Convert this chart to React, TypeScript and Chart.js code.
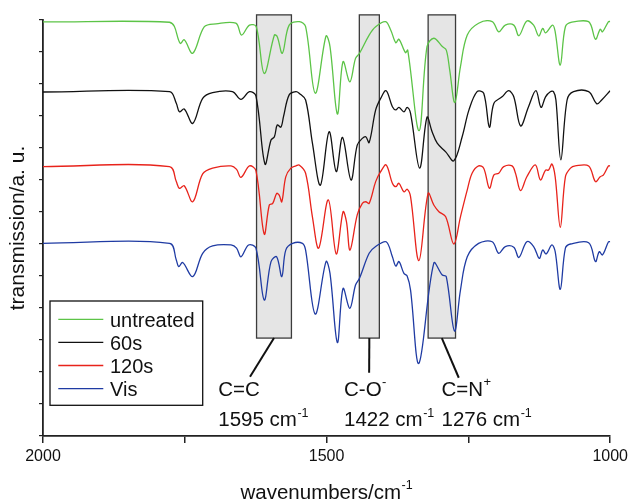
import React, { useEffect, useRef } from 'react';
import { Chart, registerables } from 'chart.js';

Chart.register(...registerables);

const FONT = '"Liberation Sans", Arial, Helvetica, sans-serif';

// ---- series ----
const seriesNames = ['untreated', '60s', '120s', 'Vis'];
const seriesColors = ['#5cc447', '#111111', '#e8231b', '#1f3ba3'];

const untreatedWn = [2000, 1777, 1758, 1751, 1736, 1715.5, 1695, 1660, 1650, 1636, 1624, 1610, 1592, 1587, 1578, 1566, 1548, 1537, 1520, 1501, 1494, 1481, 1471, 1459, 1449, 1442, 1425, 1413.5, 1396, 1387, 1378, 1372.5, 1361, 1357, 1337, 1323, 1311, 1296, 1289, 1283, 1274, 1264, 1252, 1232, 1208, 1196.5, 1185, 1170, 1161, 1147, 1135, 1126, 1119, 1114, 1101.5, 1097, 1088, 1079, 1067.6, 1038, 1026, 1017.6, 1013.6, 1003, 1000];
const untreatedT = [12.94, 12.93, 12.27, 12.38, 11.96, 12.79, 12.88, 12.9, 12.53, 12.84, 12.79, 11.33, 12.53, 12.48, 11.96, 12.84, 12.95, 12.79, 10.71, 12.5, 12.17, 10.06, 11.7, 11.07, 11.8, 11.96, 12.53, 12.79, 12.95, 12.69, 12.29, 12.4, 11.98, 12.06, 9.54, 12.17, 12.43, 12.17, 12.06, 11.44, 10.42, 11.54, 12.53, 12.9, 12.95, 12.63, 12.84, 12.84, 12.51, 12.97, 12.84, 12.5, 12.74, 12.6, 12.84, 12.63, 11.59, 12.79, 12.93, 12.95, 12.4, 12.71, 12.63, 12.95, 12.95];

const s60Wn = [2000, 1777, 1765, 1759.5, 1751, 1736, 1718.5, 1701, 1666, 1651, 1636, 1624.6, 1608.7, 1598, 1592, 1587, 1580.6, 1576, 1566, 1554, 1548.4, 1537, 1525, 1511, 1495.6, 1483, 1472, 1457, 1446, 1437, 1431, 1425, 1413.5, 1404.7, 1395, 1384, 1378, 1372.5, 1363.7, 1358, 1352, 1336, 1323, 1314, 1305, 1290, 1275.7, 1261, 1249, 1234.7, 1223, 1213, 1205, 1190.7, 1179, 1170, 1158, 1144, 1131, 1122, 1114, 1105.6, 1100, 1095.7, 1087, 1076, 1064.6, 1038, 1023.6, 1015, 1000];
const s60T = [10.75, 10.76, 10.4, 10.13, 10.22, 9.77, 10.55, 10.73, 10.76, 10.52, 10.76, 10.63, 8.5, 9.25, 9.35, 9.72, 9.65, 9.98, 10.66, 10.76, 10.71, 10.5, 9.15, 7.84, 9.51, 8.26, 9.33, 8.0, 9.09, 9.3, 9.35, 9.17, 10.19, 10.55, 10.79, 10.29, 10.19, 10.27, 10.13, 10.27, 10.08, 8.37, 9.96, 9.51, 9.15, 8.88, 8.6, 9.35, 10.19, 10.76, 10.71, 9.65, 10.4, 10.6, 10.79, 10.6, 9.69, 10.29, 10.79, 10.27, 10.6, 10.76, 10.76, 10.5, 8.63, 10.5, 10.76, 10.76, 10.38, 10.5, 10.79];

const s120Wn = [2000, 1777, 1765, 1759.5, 1751, 1736, 1718.5, 1701, 1668.5, 1658.7, 1651, 1636, 1624.6, 1610, 1601, 1595, 1588, 1583.6, 1579, 1572, 1563, 1554, 1548.4, 1537, 1525, 1514, 1497, 1483, 1471, 1465, 1458.7, 1446, 1437, 1431, 1425, 1413.5, 1404.7, 1395, 1384, 1378, 1372.5, 1363.7, 1358, 1352, 1337.3, 1321, 1311, 1302, 1290, 1275.7, 1264, 1252, 1243.5, 1232, 1223, 1213, 1205, 1196.5, 1187.7, 1173, 1167, 1158, 1147, 1132, 1123, 1114, 1108.6, 1102.8, 1097, 1088, 1079, 1070, 1061.6, 1038, 1026, 1017.6, 1011.8, 1003, 1000];
const s120T = [8.42, 8.42, 7.95, 7.74, 7.82, 7.32, 8.19, 8.37, 8.44, 8.33, 8.08, 8.44, 8.29, 6.31, 7.22, 7.27, 7.58, 7.53, 7.32, 8.1, 8.37, 8.44, 8.47, 8.21, 6.85, 5.87, 7.38, 5.69, 7.01, 6.7, 5.81, 6.91, 7.27, 7.32, 7.27, 7.95, 8.26, 8.47, 7.9, 7.79, 7.9, 7.63, 7.71, 7.48, 5.48, 7.58, 7.22, 7.01, 6.85, 6.0, 6.85, 7.69, 8.21, 8.44, 8.37, 7.74, 8.16, 8.21, 8.42, 8.44, 8.21, 7.67, 8.1, 8.47, 8.0, 8.31, 8.31, 8.5, 8.1, 6.52, 8.1, 8.37, 8.44, 8.44, 7.95, 8.1, 8.16, 8.44, 8.44];

const visWn = [2000, 1777, 1765, 1760.7, 1753.7, 1736, 1718.5, 1701, 1668.5, 1658.7, 1651, 1637.6, 1624.6, 1610, 1598, 1588, 1579, 1572, 1560, 1542.6, 1537, 1520, 1501, 1494, 1481, 1471, 1459, 1449, 1442, 1425, 1413.5, 1395, 1384, 1378, 1372.5, 1363.7, 1358, 1352, 1337.3, 1311, 1296, 1289, 1274.5, 1264, 1252, 1232, 1208, 1196.5, 1185, 1170, 1161, 1147, 1135, 1125, 1119, 1113, 1102.8, 1097, 1088, 1079, 1070, 1038, 1026, 1019.4, 1013.6, 1003, 1000];
const visT = [6.02, 6.02, 5.5, 5.29, 5.42, 4.98, 5.71, 5.94, 5.97, 5.87, 5.6, 5.97, 5.87, 4.25, 5.45, 5.6, 4.98, 5.81, 6.02, 6.02, 5.81, 3.81, 5.45, 5.08, 2.92, 4.61, 3.99, 4.72, 4.93, 5.71, 5.92, 6.07, 5.6, 5.31, 5.45, 5.08, 5.0, 4.56, 2.27, 5.4, 5.03, 4.98, 3.28, 4.56, 5.6, 6.02, 6.07, 5.71, 5.92, 5.9, 5.58, 6.07, 5.92, 5.55, 5.81, 5.69, 5.97, 5.76, 4.58, 5.87, 6.0, 6.04, 5.45, 5.76, 5.66, 6.07, 6.07];

// ---- axes ----
const xLabelledTicks = [2000, 1500, 1000];

// ---- highlighted bands ----
const bandLabels = ['C=C', 'C-O', 'C=N'];
const bandCharges = ['', '-', '+'];
const bandWavenumbers = ['1595', '1422', '1276'];
const bandFrom = [1623.5, 1442.3, 1321];
const bandTo = [1562, 1407, 1272.7];

// annotation placement (data units)
const BAND_TOP = 13.16;
const BAND_BOTTOM = 3.06;
const leaderEndWn = [1635, 1425, 1267];
const leaderEndY = [1.85, 1.98, 1.82];
const labelLeftWn = [1691, 1469.3, 1297.4];
const LABEL_Y1 = 1.26;
const LABEL_Y2 = 0.31;

function toPoints(wn: number[], t: number[]) {
  return wn.map((w, i) => ({ x: w, y: t[i] }));
}

function drawSup(ctx: CanvasRenderingContext2D, text: string, sup: string, x: number, baseline: number, size: number, supSize: number, raise: number) {
  ctx.font = `${size}px ${FONT}`;
  ctx.textAlign = 'left';
  ctx.textBaseline = 'alphabetic';
  ctx.fillText(text, x, baseline);
  const w = ctx.measureText(text).width;
  if (sup) {
    ctx.font = `${supSize}px ${FONT}`;
    ctx.fillText(sup, x + w + 0.5, baseline - raise);
  }
}

const annotationPlugin = {
  id: 'irAnnotations',
  beforeDatasetsDraw(chart: any) {
    const { ctx, scales } = chart;
    const xs = scales.x, ys = scales.y;
    ctx.save();
    for (let i = 0; i < bandFrom.length; i++) {
      const x0 = xs.getPixelForValue(bandFrom[i]);
      const x1 = xs.getPixelForValue(bandTo[i]);
      const y0 = ys.getPixelForValue(BAND_TOP);
      const y1 = ys.getPixelForValue(BAND_BOTTOM);
      ctx.fillStyle = '#e5e5e5';
      ctx.fillRect(Math.min(x0, x1), y0, Math.abs(x1 - x0), y1 - y0);
      ctx.strokeStyle = '#3c3c3c';
      ctx.lineWidth = 1.3;
      ctx.strokeRect(Math.min(x0, x1), y0, Math.abs(x1 - x0), y1 - y0);
    }
    ctx.restore();
  },
  afterDraw(chart: any) {
    const { ctx, scales, chartArea } = chart;
    const xs = scales.x, ys = scales.y;
    ctx.save();
    ctx.fillStyle = '#111';
    ctx.strokeStyle = '#111';
    // leader lines + labels
    for (let i = 0; i < bandFrom.length; i++) {
      const cx = xs.getPixelForValue((bandFrom[i] + bandTo[i]) / 2);
      const by = ys.getPixelForValue(BAND_BOTTOM);
      ctx.lineWidth = 2;
      ctx.beginPath();
      ctx.moveTo(cx, by);
      ctx.lineTo(xs.getPixelForValue(leaderEndWn[i]), ys.getPixelForValue(leaderEndY[i]));
      ctx.stroke();
      const lx = xs.getPixelForValue(labelLeftWn[i]);
      drawSup(ctx, bandLabels[i], bandCharges[i], lx, ys.getPixelForValue(LABEL_Y1), 20.5, 13, 9.5);
      drawSup(ctx, bandWavenumbers[i] + ' cm', '-1', lx, ys.getPixelForValue(LABEL_Y2), 20.5, 12.5, 9.5);
    }
    // legend
    const lx = chartArea.left + 7;
    const ly = chartArea.bottom - 135;
    ctx.lineWidth = 1.3;
    ctx.strokeStyle = '#111';
    ctx.fillStyle = '#ffffff';
    ctx.fillRect(lx, ly, 152.7, 104.3);
    ctx.strokeRect(lx, ly, 152.7, 104.3);
    chart.data.datasets.forEach((ds: any, i: number) => {
      const rowY = ly + 18.3 + i * 23.1;
      ctx.strokeStyle = ds.borderColor;
      ctx.lineWidth = 1.3;
      ctx.beginPath();
      ctx.moveTo(lx + 8.3, rowY);
      ctx.lineTo(lx + 53.3, rowY);
      ctx.stroke();
      ctx.fillStyle = '#111';
      ctx.font = `20px ${FONT}`;
      ctx.textAlign = 'left';
      ctx.textBaseline = 'alphabetic';
      ctx.fillText(ds.label, lx + 60, rowY + 7.3);
    });
    // x axis title with superscript
    const main = 'wavenumbers/cm';
    const sup = '-1';
    ctx.font = `20.5px ${FONT}`;
    const w1 = ctx.measureText(main).width;
    ctx.font = `12.5px ${FONT}`;
    const w2 = ctx.measureText(sup).width;
    const start = (chartArea.left + chartArea.right) / 2 - (w1 + w2 + 0.5) / 2;
    ctx.fillStyle = '#111';
    drawSup(ctx, main, sup, start, xs.bottom - 2, 20.5, 12.5, 10.5);
    ctx.restore();
  },
};

export default function App() {
  const ref = useRef<HTMLCanvasElement | null>(null);
  useEffect(() => {
    if (!ref.current) return;
    const wns = [untreatedWn, s60Wn, s120Wn, visWn];
    const ts = [untreatedT, s60T, s120T, visT];
    const chart = new Chart(ref.current, {
      type: 'line',
      data: {
        datasets: seriesNames.map((name, i) => ({
          label: name,
          data: toPoints(wns[i], ts[i]),
          borderColor: seriesColors[i],
          backgroundColor: seriesColors[i],
          borderWidth: 1.3,
          pointRadius: 0,
          fill: false,
          tension: 0.35,
        })),
      },
      options: {
        responsive: false,
        maintainAspectRatio: false,
        animation: false,
        devicePixelRatio: 1,
        events: [],
        layout: { padding: { top: 20, right: 20, left: 0, bottom: 0 } },
        plugins: { legend: { display: false }, tooltip: { enabled: false } },
        scales: {
          x: {
            type: 'linear',
            min: 1000,
            max: 2000,
            reverse: true,
            afterFit: (s: any) => { s.height = 65; },
            ticks: {
              stepSize: 250,
              autoSkip: false,
              maxRotation: 0,
              padding: 4,
              color: '#111',
              font: { size: 16, family: FONT },
              callback: (v: any) => (xLabelledTicks.includes(Number(v)) ? String(v) : ''),
            },
            grid: { drawOnChartArea: false, drawTicks: true, tickLength: 7, color: '#222', lineWidth: 1.5 },
            border: { display: true, color: '#222', width: 1.8 },
            title: { display: false },
          },
          y: {
            type: 'linear',
            min: 0,
            max: 13,
            afterFit: (s: any) => { s.width = 43; },
            ticks: { stepSize: 1, callback: () => '', font: { size: 10 } },
            grid: { drawOnChartArea: false, drawTicks: true, tickLength: 4, color: '#222', lineWidth: 1.2 },
            border: { display: true, color: '#222', width: 1.8 },
            title: {
              display: true,
              text: 'transmission/a. u.',
              color: '#111',
              font: { size: 21, family: FONT },
              padding: { top: 5.6, bottom: 0 },
            },
          },
        },
      },
      plugins: [annotationPlugin],
    } as any);
    return () => chart.destroy();
  }, []);
  return (
    <div style={{ position: 'absolute', left: 0, top: 0, width: 632, height: 501, background: '#fff' }}>
      <canvas ref={ref} width={632} height={501} style={{ width: 632, height: 501, display: 'block' }} />
    </div>
  );
}
